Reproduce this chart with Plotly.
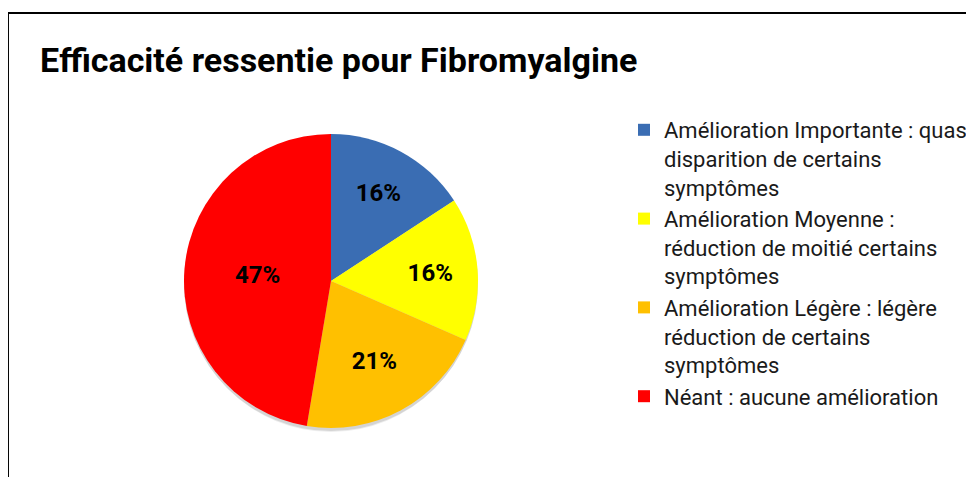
import plotly.graph_objects as go

categories = [
    "Amélioration Importante : quasi<br>disparition de certains<br>symptômes",
    "Amélioration Moyenne :<br>réduction de moitié certains<br>symptômes",
    "Amélioration Légère : légère<br>réduction de certains<br>symptômes",
    "Néant : aucune amélioration",
]
values = [3, 3, 4, 9]
colors = ["#3A6DB3", "#FFFF00", "#FFC000", "#FF0000"]
title_text = "Efficacité ressentie pour Fibromyalgine"

W, H = 974, 477
OFF = 8  # page body margin offset

cx, cy, r = 331 - OFF, 281 - OFF, 147
cy_b = H - cy


def shadow(dy, rr, color):
    return dict(
        type="circle",
        xref="paper",
        yref="paper",
        x0=(cx - rr) / W,
        x1=(cx + rr) / W,
        y0=(cy_b - dy - rr) / H,
        y1=(cy_b - dy + rr) / H,
        fillcolor=color,
        line=dict(width=0),
        layer="below",
    )


fig = go.Figure(
    go.Pie(
        labels=categories,
        values=values,
        sort=False,
        direction="clockwise",
        rotation=0,
        marker=dict(colors=colors, line=dict(width=0)),
        texttemplate="%{percent:.0%}",
        textposition="inside",
        insidetextorientation="horizontal",
        textfont=dict(family="Roboto", size=24, color="#000000", weight="bold"),
        domain=dict(x=[(cx - r) / W, (cx + r) / W], y=[(cy_b - r) / H, (cy_b + r) / H]),
        hoverinfo="label+percent",
    )
)

fig.update_layout(
    width=W,
    height=H,
    margin=dict(l=0, r=0, t=0, b=0),
    paper_bgcolor="white",
    plot_bgcolor="white",
    title=dict(
        text=title_text,
        x=(40 - OFF) / W,
        xanchor="left",
        y=1 - 52 / H,
        yanchor="middle",
        font=dict(family="Roboto", size=34, color="#000000", weight="bold"),
    ),
    legend=dict(
        x=(624 - OFF) / W,
        xanchor="left",
        y=1 - (109 - OFF) / H,
        yanchor="top",
        valign="top",
        font=dict(family="Roboto", size=22, color="#1a1a1a"),
        bgcolor="rgba(0,0,0,0)",
    ),
    shapes=[
        dict(
            type="rect",
            xref="paper",
            yref="paper",
            x0=(7 - OFF) / W + 0.001,
            x1=1.05,
            y0=-0.05,
            y1=1 - (13 - OFF) / H,
            line=dict(color="black", width=2),
            layer="below",
        ),
        shadow(6, r - 2, "#eeeeee"),
        shadow(3, r, "#d4d4d4"),
    ],
)

fig.write_html("out.html")
